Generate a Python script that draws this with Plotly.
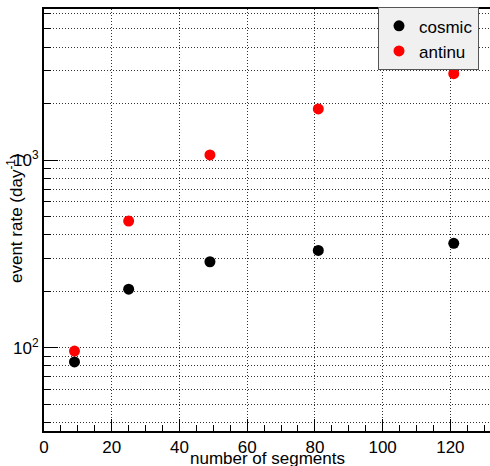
import plotly.graph_objects as go

segments = [9, 25, 49, 81, 121]
cosmic_rate = [84, 205, 287, 330, 360]
antinu_rate = [96, 473, 1064, 1872, 2885]

y_major_vals = [100, 1000]
y_major_text = ["10<sup>2</sup>", "10<sup>3</sup>"]
y_minor_vals = [40, 50, 60, 70, 80, 90, 200, 300, 400, 500, 600, 700, 800, 900,
                2000, 3000, 4000, 5000, 6000]
x_tick_vals = [0, 20, 40, 60, 80, 100, 120]

x_title = "number of segments"
y_title = "event rate (day<sup>-1</sup>)"

FONT = "Liberation Sans, Arial, Helvetica, sans-serif"
GRID = "#333333"
DASH = "1px,2px"

fig = go.Figure()
fig.add_trace(go.Scatter(x=segments, y=cosmic_rate, mode="markers", name="cosmic",
                         marker=dict(color="#000000", size=11)))
fig.add_trace(go.Scatter(x=segments, y=antinu_rate, mode="markers", name="antinu",
                         marker=dict(color="#ff0000", size=11)))

fig.update_layout(
    width=490, height=466,
    margin=dict(l=44, r=0, t=9, b=35, autoexpand=False),
    paper_bgcolor="white", plot_bgcolor="white",
    font=dict(family=FONT, size=17, color="black"),
    showlegend=True,
    legend=dict(x=(378 - 44) / 446, y=1.004, xanchor="left", yanchor="top",
                bgcolor="#f0f0f0", bordercolor="#555555", borderwidth=1,
                font=dict(size=17), entrywidth=120, itemwidth=30,
                tracegroupgap=0),
    annotations=[
        dict(text=x_title, xref="paper", yref="paper", x=0.5, y=(431 - 458) / 422,
             xanchor="center", yanchor="middle", showarrow=False,
             font=dict(size=17)),
        dict(text=y_title, xref="paper", yref="paper", x=(15 - 44) / 446,
             y=(431 - 218) / 422, xanchor="center", yanchor="middle",
             textangle=-90, showarrow=False, font=dict(size=17)),
    ],
)

fig.update_xaxes(
    range=[0, 131.7], automargin=False,
    tickvals=x_tick_vals, ticks="inside", ticklen=12, tickwidth=1, tickcolor="black",
    tickfont=dict(size=17),
    showline=True, linecolor="black", linewidth=2, mirror=True,
    showgrid=True, gridcolor=GRID, griddash=DASH, gridwidth=1,
    zeroline=False,
    minor=dict(dtick=5, ticks="inside", ticklen=6, tickcolor="black", showgrid=False),
)

fig.update_yaxes(
    type="log", range=[1.5562, 3.8045], automargin=False,
    tickvals=y_major_vals, ticktext=y_major_text,
    ticks="inside", ticklen=14, tickwidth=1, tickcolor="black",
    tickfont=dict(size=17),
    showline=True, linecolor="black", linewidth=2, mirror=True,
    showgrid=True, gridcolor=GRID, griddash=DASH, gridwidth=1,
    zeroline=False,
    minor=dict(tickvals=y_minor_vals, ticks="inside", ticklen=7, tickcolor="black",
               showgrid=True, gridcolor=GRID, griddash=DASH, gridwidth=1),
)

fig.write_html("out.html",
               config={"displayModeBar": False},
               post_script="document.body.style.margin='0px';"
                           "document.body.style.overflow='hidden';")
